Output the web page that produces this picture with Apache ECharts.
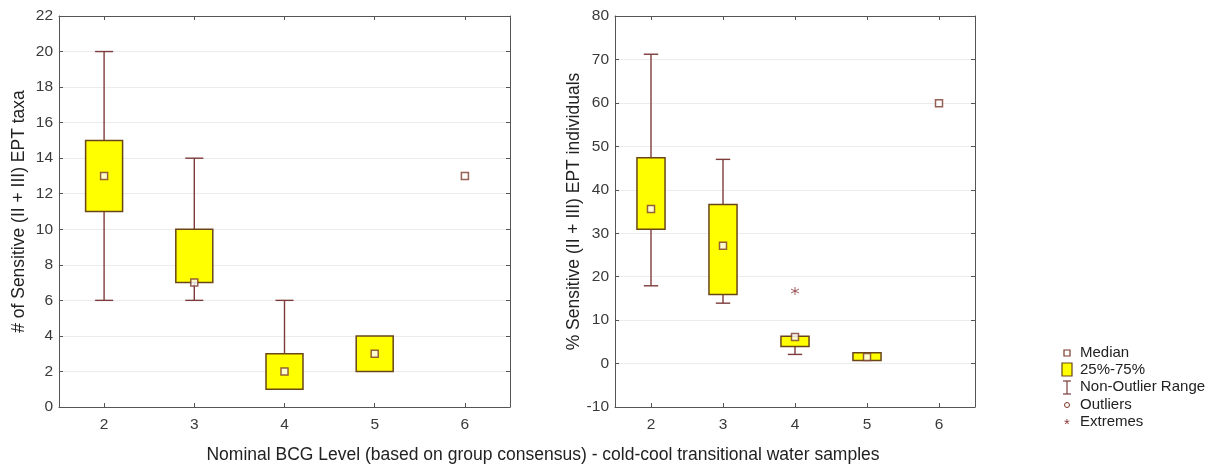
<!DOCTYPE html>
<html>
<head>
<meta charset="utf-8">
<script src="https://cdn.jsdelivr.net/npm/echarts@6/dist/echarts.min.js"></script>
<style>
  html, body { margin: 0; padding: 0; background: #fff; }
  #chart { width: 1212px; height: 469px; }
</style>
</head>
<body>
<div id="chart"></div>
<script>
// BCG levels on the shared horizontal axis
const levels = ['2', '3', '4', '5', '6'];

// Box statistics per level: [min, q1, median, q3, max] (null = single sample only)
const taxaBoxes = [
  [6, 11, 13, 15, 20],
  [6, 7, 7, 10, 14],
  [1, 1, 2, 3, 6],
  [2, 2, 3, 4, 4],
  null
];
const taxaMedians = [13, 7, 2, 3, 13];

const indivBoxes = [
  [17.9, 30.9, 35.6, 47.4, 71.2],
  [13.9, 15.9, 27.1, 36.6, 47.0],
  [2.1, 3.9, 6.1, 6.3, 6.3],
  [0.7, 0.7, 1.5, 2.5, 2.5],
  null
];
const indivMedians = [35.6, 27.1, 6.1, 1.5, 59.9];
// Extreme values: [level index, value]
const indivExtremes = [[2, 16.7]];

const leftTicks = { min: 0, max: 22, interval: 2 };
const rightTicks = { min: -10, max: 80, interval: 10 };

const WHISKER = '#7d3b3b';
const BOX_EDGE = '#6a4518';
const BOX_FILL = '#ffff00';
const FONT = 'Liberation Sans, Arial, sans-serif';

function boxData(boxes) {
  const out = [];
  boxes.forEach((b, i) => { if (b) out.push([i].concat(b)); });
  return out;
}

function makeRenderer(boxFrac, capFrac) {
  return function (params, api) {
    const idx = api.value(0);
    const lo = api.value(1), q1 = api.value(2), q3 = api.value(4), hi = api.value(5);
    const band = api.size([1, 0])[0];
    const bw = band * boxFrac, cw = band * capFrac;
    const pLo = api.coord([idx, lo]);
    const pQ1 = api.coord([idx, q1]);
    const pQ3 = api.coord([idx, q3]);
    const pHi = api.coord([idx, hi]);
    const x = pLo[0];
    const lineStyle = { stroke: WHISKER, lineWidth: 1.4 };
    const children = [];
    if (hi > q3) {
      children.push({ type: 'line', shape: { x1: x, y1: pQ3[1], x2: x, y2: pHi[1] }, style: lineStyle });
      children.push({ type: 'line', shape: { x1: x - cw / 2, y1: pHi[1], x2: x + cw / 2, y2: pHi[1] }, style: lineStyle });
    }
    if (lo < q1) {
      children.push({ type: 'line', shape: { x1: x, y1: pQ1[1], x2: x, y2: pLo[1] }, style: lineStyle });
      children.push({ type: 'line', shape: { x1: x - cw / 2, y1: pLo[1], x2: x + cw / 2, y2: pLo[1] }, style: lineStyle });
    }
    children.push({
      type: 'rect',
      shape: { x: x - bw / 2, y: pQ3[1], width: bw, height: pQ1[1] - pQ3[1] },
      style: { fill: BOX_FILL, stroke: BOX_EDGE, lineWidth: 1.5 }
    });
    return { type: 'group', children: children };
  };
}

function medianData(vals) {
  return vals.map((v, i) => [i, v]);
}

const axisCommon = {
  axisLine: { show: true, onZero: false, lineStyle: { color: '#555', width: 1 } },
  axisTick: { show: true, inside: true, length: 4, lineStyle: { color: '#555' } },
  axisLabel: { color: '#3a3a3a', fontSize: 15.5, fontFamily: FONT }
};

function xAxes(gridIndex) {
  return [
    Object.assign({}, axisCommon, {
      type: 'category', gridIndex: gridIndex, data: levels, boundaryGap: true,
      axisTick: Object.assign({}, axisCommon.axisTick, { alignWithLabel: true }),
      axisLabel: Object.assign({}, axisCommon.axisLabel, { margin: 10 }),
      splitLine: { show: false }
    }),
    Object.assign({}, axisCommon, {
      type: 'category', gridIndex: gridIndex, data: levels, boundaryGap: true, position: 'top',
      axisTick: Object.assign({}, axisCommon.axisTick, { alignWithLabel: true }),
      axisLabel: { show: false }, splitLine: { show: false }
    })
  ];
}

function yAxes(gridIndex, ticks, name) {
  return [
    Object.assign({}, axisCommon, {
      type: 'value', gridIndex: gridIndex, min: ticks.min, max: ticks.max, interval: ticks.interval,
      name: name, nameLocation: 'middle', nameGap: 31, nameRotate: 90,
      nameTextStyle: { color: '#222', fontSize: 17.5, fontFamily: FONT },
      axisLabel: Object.assign({}, axisCommon.axisLabel, { margin: 6 }),
      splitLine: { show: true, lineStyle: { color: '#ececec', width: 1 } }
    }),
    Object.assign({}, axisCommon, {
      type: 'value', gridIndex: gridIndex, min: ticks.min, max: ticks.max, interval: ticks.interval,
      position: 'right', axisLabel: { show: false }, splitLine: { show: false }
    })
  ];
}

const medianStyle = {
  symbol: 'rect', symbolSize: 7,
  itemStyle: { color: '#ffffff', borderColor: '#7a3a2a', borderWidth: 1.5 }
};

const legendText = { fill: '#222', fontSize: 15, fontFamily: FONT, textVerticalAlign: 'middle' };

const option = {
  backgroundColor: '#ffffff',
  animation: false,
  grid: [
    { left: 59, top: 16, width: 451, height: 391 },
    { left: 615, top: 16, width: 360, height: 391 }
  ],
  xAxis: xAxes(0).concat(xAxes(1)),
  yAxis: yAxes(0, leftTicks, '# of Sensitive (II + III) EPT taxa')
    .concat(yAxes(1, rightTicks, '% Sensitive (II + III) EPT individuals')),
  series: [
    {
      type: 'custom', xAxisIndex: 0, yAxisIndex: 0,
      renderItem: makeRenderer(0.41, 0.2),
      encode: { x: 0, y: [1, 2, 3, 4, 5] },
      data: boxData(taxaBoxes), z: 2
    },
    Object.assign({ type: 'scatter', xAxisIndex: 0, yAxisIndex: 0, data: medianData(taxaMedians), z: 3 }, medianStyle),
    {
      type: 'custom', xAxisIndex: 2, yAxisIndex: 2,
      renderItem: makeRenderer(0.39, 0.2),
      encode: { x: 0, y: [1, 2, 3, 4, 5] },
      data: boxData(indivBoxes), z: 2
    },
    Object.assign({ type: 'scatter', xAxisIndex: 2, yAxisIndex: 2, data: medianData(indivMedians), z: 3 }, medianStyle),
    {
      type: 'scatter', xAxisIndex: 2, yAxisIndex: 2, data: indivExtremes, z: 3,
      symbol: 'path://M5,0L5,10M0.7,2.5L9.3,7.5M9.3,2.5L0.7,7.5', symbolSize: 8,
      itemStyle: { color: 'none', borderColor: '#8a3a3a', borderWidth: 1 }
    }
  ],
  graphic: [
    {
      type: 'text', x: 543, y: 455,
      style: {
        text: 'Nominal BCG Level (based on group consensus) - cold-cool transitional water samples',
        fill: '#222', fontSize: 17.5, fontFamily: FONT, textAlign: 'center', textVerticalAlign: 'middle'
      }
    },
    // legend block
    { type: 'rect', shape: { x: 1064, y: 350, width: 6, height: 6 }, style: { fill: '#fff', stroke: '#7a3a2a', lineWidth: 1.2 } },
    { type: 'text', x: 1080, y: 353, style: Object.assign({ text: 'Median' }, legendText) },
    { type: 'rect', shape: { x: 1062, y: 363, width: 10, height: 13 }, style: { fill: BOX_FILL, stroke: BOX_EDGE, lineWidth: 1.2 } },
    { type: 'text', x: 1080, y: 370, style: Object.assign({ text: '25%-75%' }, legendText) },
    { type: 'polyline', shape: { points: [[1063, 381], [1071, 381]] }, style: { stroke: WHISKER, lineWidth: 1.2 } },
    { type: 'polyline', shape: { points: [[1067, 381], [1067, 394]] }, style: { stroke: WHISKER, lineWidth: 1.2 } },
    { type: 'polyline', shape: { points: [[1063, 394], [1071, 394]] }, style: { stroke: WHISKER, lineWidth: 1.2 } },
    { type: 'text', x: 1080, y: 387, style: Object.assign({ text: 'Non-Outlier Range' }, legendText) },
    { type: 'circle', shape: { cx: 1067, cy: 405, r: 2.5 }, style: { fill: '#fff', stroke: '#7a3a2a', lineWidth: 1 } },
    { type: 'text', x: 1080, y: 405, style: Object.assign({ text: 'Outliers' }, legendText) },
    { type: 'text', x: 1067, y: 425, style: { text: '*', fill: '#8a3a3a', fontSize: 15, fontFamily: FONT, textAlign: 'center', textVerticalAlign: 'middle' } },
    { type: 'text', x: 1080, y: 422, style: Object.assign({ text: 'Extremes' }, legendText) }
  ]
};

const chart = echarts.init(document.getElementById('chart'), null, { renderer: 'canvas' });
chart.setOption(option);
</script>
</body>
</html>
